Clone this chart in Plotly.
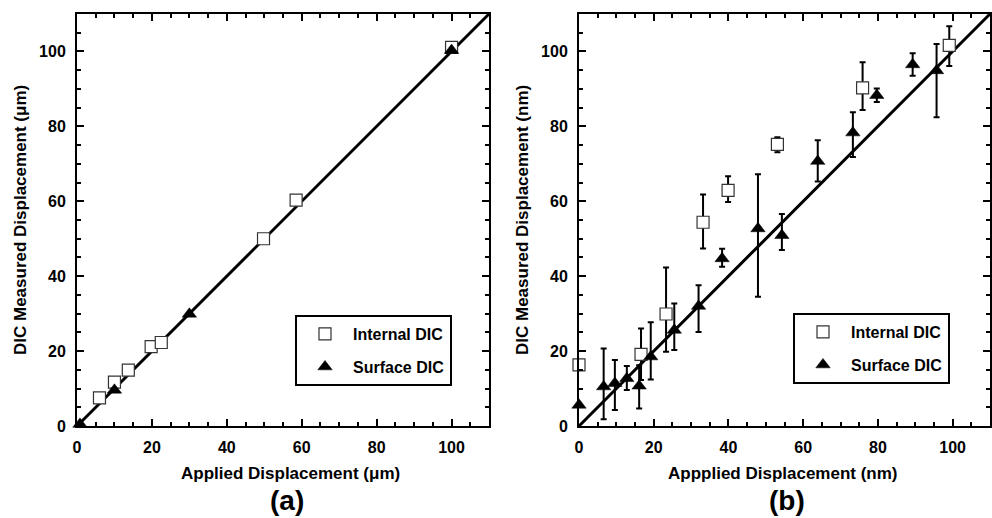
import plotly.graph_objects as go

# ---------------- data ----------------
# panel (a): micrometres
a_int_x = [6.0, 10.0, 13.7, 19.8, 22.5, 49.8, 58.5, 100.0]
a_int_y = [7.5, 11.7, 14.9, 21.2, 22.3, 50.0, 60.3, 101.1]
a_surf_x = [0.8, 10.0, 30.0, 100.0]
a_surf_y = [0.5, 9.6, 29.9, 100.3]

# panel (b): nanometres
b_int_x = [0.0, 16.6, 23.3, 33.2, 39.9, 53.1, 75.9, 99.1]
b_int_y = [16.3, 19.1, 29.9, 54.4, 62.9, 75.2, 90.3, 101.6]
b_int_plus = [0.0, 6.9, 12.4, 7.4, 3.8, 1.9, 6.8, 5.1]
b_int_minus = [0.0, 6.8, 10.1, 7.0, 3.1, 2.1, 5.9, 5.5]

b_surf_x = [0.0, 6.6, 9.6, 12.8, 16.1, 19.2, 25.5, 32.0, 38.3, 47.9, 54.3, 63.9, 73.3, 79.7, 89.3, 95.7]
b_surf_y = [5.6, 10.5, 11.4, 12.7, 10.7, 18.5, 25.6, 32.0, 44.7, 52.7, 50.9, 70.7, 78.3, 88.3, 96.5, 94.9]
b_surf_plus = [0.0, 10.2, 6.2, 3.3, 5.5, 9.2, 7.1, 5.6, 2.6, 14.5, 5.7, 5.6, 5.5, 1.8, 3.0, 7.1]
b_surf_minus = [0.0, 8.7, 7.1, 3.1, 6.0, 6.1, 5.3, 6.9, 2.2, 18.2, 3.9, 5.4, 6.5, 1.8, 3.0, 12.5]

# 1:1 reference line
ref_x = [0, 110]
ref_y = [0, 110]

tick_vals = [0, 20, 40, 60, 80, 100]
tick_text = ["0", "20", "40", "60", "80", "100"]

FONT = "Liberation Sans, Arial, sans-serif"
W, H = 992, 518

fig = go.Figure()

sq = dict(symbol="square", size=12, color="white", line=dict(color="#333333", width=1.2))
tri = dict(symbol="triangle-up", size=12.5, color="black", line=dict(color="black", width=0.5))

# panel a
fig.add_trace(go.Scatter(x=ref_x, y=ref_y, mode="lines", line=dict(color="black", width=3),
                         showlegend=False, xaxis="x", yaxis="y", hoverinfo="skip"))
fig.add_trace(go.Scatter(x=a_int_x, y=a_int_y, mode="markers", marker=sq, name="Internal DIC",
                         cliponaxis=False,
                         legend="legend", legendgroup="a1", xaxis="x", yaxis="y"))
fig.add_trace(go.Scatter(x=a_surf_x, y=a_surf_y, mode="markers", marker=tri, name="Surface DIC",
                         cliponaxis=False,
                         legend="legend", legendgroup="a2", xaxis="x", yaxis="y"))

# panel b
err = dict(type="data", symmetric=False, color="black", thickness=2, width=3)
fig.add_trace(go.Scatter(x=ref_x, y=ref_y, mode="lines", line=dict(color="black", width=3),
                         showlegend=False, xaxis="x2", yaxis="y2", hoverinfo="skip"))
fig.add_trace(go.Scatter(x=b_int_x, y=b_int_y, mode="markers", marker=sq, name="Internal DIC",
                         cliponaxis=False,
                         error_y=dict(err, array=b_int_plus, arrayminus=b_int_minus),
                         legend="legend2", legendgroup="b1", xaxis="x2", yaxis="y2"))
fig.add_trace(go.Scatter(x=b_surf_x, y=b_surf_y, mode="markers", marker=tri, name="Surface DIC",
                         cliponaxis=False,
                         error_y=dict(err, array=b_surf_plus, arrayminus=b_surf_minus),
                         legend="legend2", legendgroup="b2", xaxis="x2", yaxis="y2"))

def ax(domain, anchor):
    return dict(domain=domain, anchor=anchor, range=[0, 110], showgrid=False, zeroline=False,
                showline=True, linecolor="black", linewidth=2, mirror="ticks",
                ticks="inside", ticklen=7, tickwidth=1.5, tickcolor="black",
                tickvals=tick_vals, ticktext=tick_text, ticklabelstandoff=6,
                minor=dict(dtick=5, tick0=0, ticks="inside", ticklen=4, tickwidth=1.5, tickcolor="black"),
                tickfont=dict(family=FONT, size=16, color="black", weight="bold"),
                automargin=False, fixedrange=True)

ydom = [(H - 426) / H, (H - 14) / H]
xa_dom = [77 / W, 489 / W]
xb_dom = [579 / W, 990 / W]

legend_common = dict(bgcolor="white", bordercolor="black", borderwidth=2,
                     font=dict(family=FONT, size=16, color="black", weight="bold"),
                     xanchor="left", yanchor="top", traceorder="grouped",
                     tracegroupgap=9, itemwidth=46, xref="paper", yref="paper")

fig.update_layout(
    width=W, height=H, margin=dict(l=0, r=0, t=0, b=0),
    paper_bgcolor="white", plot_bgcolor="white",
    xaxis=ax(xa_dom, "y"), yaxis=ax(ydom, "x"),
    xaxis2=ax(xb_dom, "y2"), yaxis2=ax(ydom, "x2"),
    legend=dict(legend_common, x=295 / W, y=1 - 315 / H),
    legend2=dict(legend_common, x=793 / W, y=1 - 313 / H),
    showlegend=True,
)

def ann(text, x, y, size, angle=0):
    fig.add_annotation(text=text, x=x / W, y=1 - y / H, xref="paper", yref="paper",
                       showarrow=False, textangle=angle, xanchor="center", yanchor="middle",
                       font=dict(family=FONT, size=size, color="black", weight="bold"))

ann("Applied Displacement (μm)", 290, 473, 17)
ann("DIC Measured Displacement (μm)", 20, 220, 17, -90)
ann("Appplied Displacement (nm)", 783, 473, 17)
ann("DIC Measured Displacement (nm)", 522, 220, 17, -90)
ann("(a)", 287, 500, 28)
ann("(b)", 787, 500, 28)

fig.write_html("out.html")
